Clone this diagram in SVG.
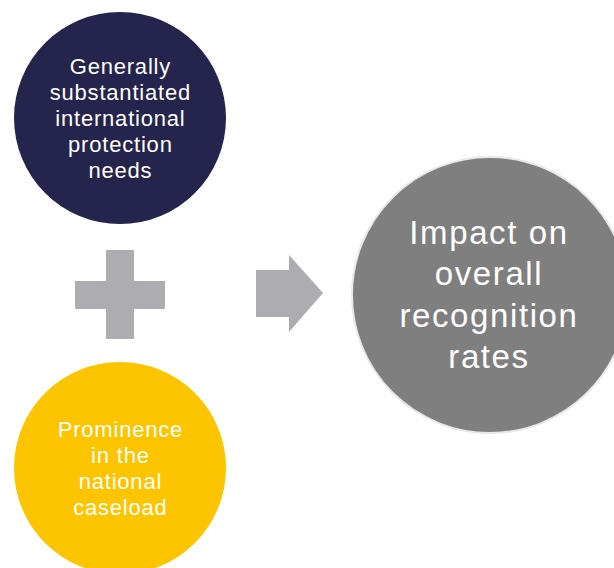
<svg xmlns="http://www.w3.org/2000/svg" width="614" height="568" viewBox="0 0 614 568">
<style>
.t{font-family:"Liberation Sans",Arial,sans-serif;fill:#ffffff;text-anchor:middle;}
.s{font-size:22px;letter-spacing:0.8px;}
.b{font-size:33px;letter-spacing:1.6px;}
.sym{fill:#adadb1;}
</style>
<rect width="614" height="568" fill="#ffffff"/>
<g id="node-needs">
<circle cx="120" cy="118" r="106" fill="#24244c"/>
<text class="t s" x="120.4" y="74">Generally</text>
<text class="t s" x="120.4" y="100">substantiated</text>
<text class="t s" x="120.4" y="126">international</text>
<text class="t s" x="120.4" y="152">protection</text>
<text class="t s" x="120.4" y="178">needs</text>
</g>
<g id="node-prominence">
<circle cx="120" cy="468" r="106" fill="#fdc400"/>
<text class="t s" x="120.4" y="437">Prominence</text>
<text class="t s" x="120.4" y="463">in the</text>
<text class="t s" x="120.4" y="489">national</text>
<text class="t s" x="120.4" y="515">caseload</text>
</g>
<g id="node-impact">
<circle cx="490" cy="295" r="138" fill="#7f7f7f" stroke="#e8e8e8" stroke-width="2"/>
<text class="t b" x="489" y="244">Impact on</text>
<text class="t b" x="489" y="285">overall</text>
<text class="t b" x="489" y="327">recognition</text>
<text class="t b" x="489" y="368">rates</text>
</g>
<g id="connectors">
<path class="sym" d="M106,250 H134 V281 H165 V309 H134 V339 H106 V309 H75 V281 H106 Z"/>
<path class="sym" d="M256,270 H289 V255 L323,293 L289,332 V317 H256 Z"/>
</g>
</svg>
